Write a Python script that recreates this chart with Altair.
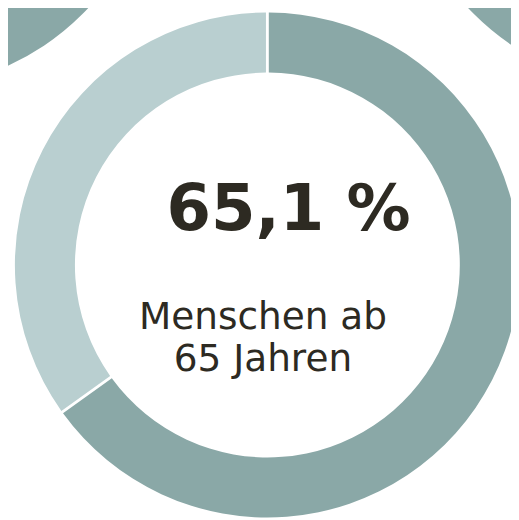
import altair as alt
import pandas as pd

# ---- data ----
categories = ["Menschen ab 65 Jahren", "Jünger als 65 Jahre"]
shares = [65.1, 34.9]
neighbor_names = ["links oben", "rechts oben"]
neighbor_shares = [100.0, 100.0]
headline = "65,1 %"
label_lines = ["Menschen ab", "65 Jahren"]

colors = ["#8aa8a7", "#b9cfd0"]
text_color = "#2d2a22"

main_df = pd.DataFrame({"Gruppe": categories, "Anteil": shares, "Reihenfolge": [0, 1]})

INNER, OUTER = 195.5, 256.5
color_scale = alt.Scale(domain=categories, range=colors)


def donut(df, cx, cy):
    return alt.Chart(df).mark_arc(
        innerRadius=INNER, outerRadius=OUTER, padAngle=0.009
    ).encode(
        theta=alt.Theta("Anteil:Q", stack=True),
        color=alt.Color("Gruppe:N", scale=color_scale, legend=None),
        order=alt.Order("Reihenfolge:Q"),
        x=alt.value(cx),
        y=alt.value(cy),
    )


nb_left = pd.DataFrame({"Gruppe": [categories[0]], "Anteil": [neighbor_shares[0]],
                        "Reihenfolge": [0], "Name": [neighbor_names[0]]})
nb_right = pd.DataFrame({"Gruppe": [categories[0]], "Anteil": [neighbor_shares[1]],
                         "Reihenfolge": [0], "Name": [neighbor_names[1]]})

main = donut(main_df, 263.5, 257)
left = donut(nb_left, -106, -179)
right = donut(nb_right, 655, -179)

head = alt.Chart(pd.DataFrame({"t": [headline]})).mark_text(
    font="DejaVu Sans", fontWeight="bold", fontSize=65, color=text_color,
    align="center", baseline="alphabetic"
).encode(text="t:N", x=alt.value(285), y=alt.value(221))

label = alt.Chart(pd.DataFrame({"t": ["\n".join(label_lines)]})).mark_text(
    font="DejaVu Sans", fontSize=38, color=text_color, align="center",
    baseline="alphabetic", lineBreak="\n", lineHeight=43
).encode(text="t:N", x=alt.value(259), y=alt.value(322))

chart = alt.layer(left, right, main, head, label).properties(
    width=511, height=512, padding=0,
    autosize=alt.AutoSizeParams(type="none"),
).configure_view(stroke=None)

chart.save("out.html", embed_options={"renderer": "svg", "actions": False})
